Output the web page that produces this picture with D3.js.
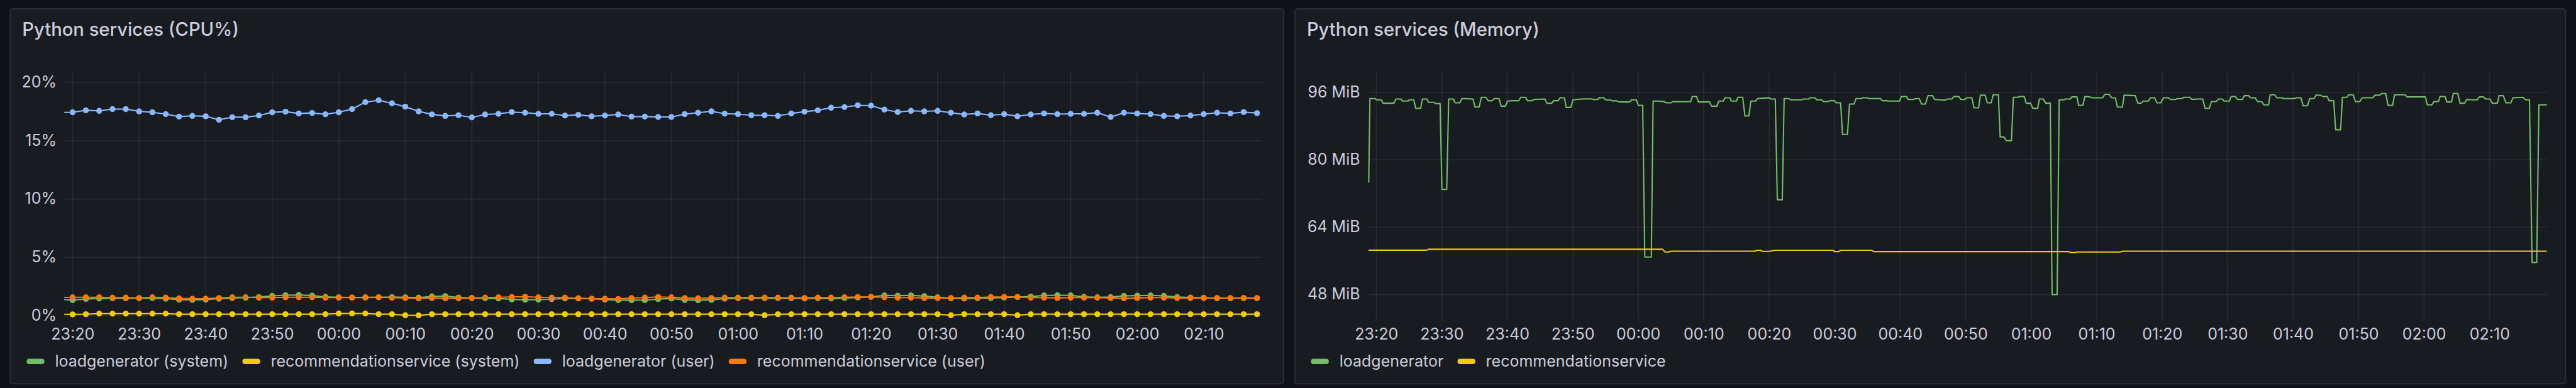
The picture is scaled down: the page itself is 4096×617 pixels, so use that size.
<!DOCTYPE html>
<html><head><meta charset="utf-8">
<script src="https://cdn.jsdelivr.net/npm/d3@7"></script>
<style>html,body{margin:0;padding:0;background:#111217;overflow:hidden}</style>
</head><body>
<svg id="c" width="4096" height="617" viewBox="0 0 6093 918" preserveAspectRatio="none"></svg>
<script>
// ---------- DATA ----------
const cpuTitle = "Python services (CPU%)";
const memTitle = "Python services (Memory)";
const cpuSeriesNames = ["loadgenerator (system)", "recommendationservice (system)", "loadgenerator (user)", "recommendationservice (user)"];
const memSeriesNames = ["loadgenerator", "recommendationservice"];
const cpuTicks = [0, 5, 10, 15, 20];
const memTicks = [48, 64, 80, 96];
// CPU samples: every 2 minutes starting 23:18
const cpuStartMinute = -2, cpuStepMinutes = 2;
const lgSystem = [1.40,1.34,1.44,1.48,1.50,1.50,1.50,1.52,1.46,1.38,1.36,1.38,1.46,1.52,1.55,1.60,1.70,1.76,1.78,1.72,1.62,1.58,1.56,1.56,1.58,1.60,1.58,1.55,1.66,1.68,1.56,1.52,1.50,1.48,1.40,1.37,1.38,1.42,1.48,1.50,1.46,1.38,1.34,1.33,1.34,1.42,1.48,1.36,1.33,1.36,1.46,1.50,1.52,1.50,1.52,1.50,1.48,1.50,1.48,1.52,1.56,1.62,1.74,1.72,1.74,1.68,1.58,1.50,1.48,1.50,1.52,1.56,1.60,1.64,1.74,1.76,1.74,1.62,1.58,1.60,1.70,1.72,1.74,1.70,1.60,1.56,1.54,1.50,1.50,1.52,1.50];
const recSystem = [0.13,0.12,0.13,0.18,0.18,0.18,0.18,0.18,0.18,0.13,0.13,0.13,0.13,0.13,0.13,0.13,0.13,0.13,0.13,0.13,0.13,0.19,0.19,0.19,0.13,0.13,0.04,0.03,0.13,0.13,0.13,0.13,0.13,0.13,0.13,0.13,0.13,0.13,0.13,0.13,0.13,0.13,0.13,0.13,0.13,0.13,0.13,0.13,0.13,0.13,0.13,0.13,0.13,0.04,0.13,0.13,0.13,0.13,0.13,0.13,0.13,0.13,0.13,0.13,0.13,0.13,0.13,0.04,0.13,0.13,0.13,0.13,0.04,0.13,0.13,0.13,0.13,0.13,0.13,0.13,0.13,0.13,0.13,0.13,0.13,0.13,0.13,0.13,0.13,0.13,0.13];
const lgUser = [17.42,17.44,17.61,17.56,17.71,17.71,17.52,17.44,17.28,17.07,17.13,17.10,16.80,17.02,17.02,17.16,17.44,17.49,17.34,17.38,17.27,17.44,17.71,18.31,18.47,18.21,17.92,17.52,17.26,17.13,17.19,17.00,17.25,17.31,17.46,17.40,17.31,17.31,17.16,17.22,17.10,17.16,17.25,17.07,17.07,17.04,17.04,17.28,17.40,17.52,17.32,17.28,17.19,17.19,17.13,17.34,17.49,17.61,17.83,17.89,18.04,18.01,17.67,17.46,17.56,17.52,17.56,17.40,17.25,17.34,17.19,17.28,17.10,17.25,17.34,17.28,17.31,17.31,17.40,17.04,17.40,17.34,17.28,17.13,17.10,17.16,17.28,17.40,17.34,17.46,17.37];
const recUser = [1.56,1.58,1.58,1.58,1.55,1.55,1.52,1.58,1.55,1.49,1.46,1.46,1.52,1.58,1.58,1.55,1.55,1.58,1.58,1.58,1.55,1.55,1.55,1.58,1.58,1.55,1.52,1.49,1.52,1.49,1.49,1.52,1.55,1.58,1.61,1.63,1.58,1.55,1.55,1.49,1.46,1.46,1.44,1.52,1.55,1.61,1.58,1.52,1.50,1.52,1.55,1.55,1.55,1.55,1.55,1.55,1.52,1.55,1.55,1.58,1.61,1.61,1.58,1.55,1.55,1.52,1.52,1.52,1.55,1.55,1.61,1.61,1.61,1.55,1.55,1.52,1.55,1.55,1.55,1.52,1.49,1.52,1.55,1.55,1.52,1.52,1.52,1.52,1.52,1.52,1.52];
// Memory: [minutes after 23:20, MiB]
const lgMem = [[-1.16,74.6],[-0.97,94.5],[-0.19,94.5],[0,94.2],[0.77,94.2],[1.04,93.4],[2.7,93.4],[3.0,94.4],[3.75,94.4],[4.02,93.9],[4.83,93.9],[5.03,94.2],[5.72,94.2],[6.03,92.2],[6.77,92.2],[7.04,94.4],[7.73,94.4],[7.97,93.6],[8.82,93.6],[9.05,93.3],[9.74,93.3],[10.02,72.95],[10.75,72.95],[11.06,94.4],[11.79,94.4],[12.06,93.5],[12.76,93.5],[13.07,94.5],[14.0,94.45],[14.77,94.4],[15.08,92.5],[15.7,92.5],[16.05,94.8],[16.74,94.8],[17.09,94.0],[17.71,94.0],[18.02,94.5],[18.75,94.5],[19.06,92.7],[19.72,92.7],[20.03,93.9],[20.9,94.0],[21.77,94.0],[22.04,94.8],[22.8,94.8],[23.09,94.0],[23.78,94.0],[24.09,94.3],[25.0,94.35],[25.75,94.4],[26.06,93.4],[26.8,93.4],[27.07,94.0],[27.76,94.0],[28.07,94.7],[28.73,94.7],[29.0,92.4],[29.7,92.4],[30.05,94.2],[30.94,94.36],[31.94,94.43],[32.79,94.43],[33.06,94.3],[33.84,94.3],[34.03,94.7],[34.73,94.7],[35.0,94.23],[35.77,94.16],[36.04,93.96],[36.74,93.96],[37.05,93.7],[38.67,93.7],[38.98,94.2],[39.71,94.2],[40.02,92.9],[40.68,92.9],[41.0,56.9],[42.0,56.9],[42.27,93.9],[43.0,93.9],[43.9,93.8],[44.3,93.5],[45.0,93.5],[45.25,93.8],[47.2,93.75],[48.0,93.8],[48.26,95.0],[48.9,95.0],[49.2,93.7],[50.9,93.7],[51.2,92.7],[52.0,92.7],[52.3,93.9],[53.0,93.9],[53.25,94.7],[54.0,94.7],[54.2,93.9],[55.0,93.9],[55.2,94.8],[55.95,94.8],[56.3,90.4],[56.9,90.4],[57.2,93.9],[57.9,93.9],[58.2,94.5],[59.1,94.6],[60.0,94.7],[60.27,94.4],[60.93,94.4],[61.24,70.5],[62.0,70.5],[62.28,94.5],[63.0,94.5],[63.25,94.2],[65.0,94.2],[65.2,94.4],[66.07,94.4],[66.2,94.7],[67.0,94.7],[67.27,94.2],[68.0,94.2],[68.28,93.8],[69.0,93.8],[69.28,94.0],[69.94,94.0],[70.25,93.5],[70.9,93.5],[71.2,86.0],[71.95,86.0],[72.26,93.2],[72.95,93.2],[73.26,94.5],[74.0,94.5],[74.27,94.7],[75.0,94.7],[75.2,94.5],[77.0,94.5],[77.25,94.0],[78.06,94.0],[78.3,93.9],[79.9,93.9],[80.19,95.0],[80.96,95.0],[81.23,94.3],[82.04,94.3],[82.3,94.5],[82.9,94.5],[83.28,93.2],[83.86,93.2],[84.25,95.2],[84.94,95.2],[85.25,94.3],[86.0,94.2],[86.95,94.15],[87.22,94.4],[87.9,94.4],[88.2,95.0],[88.96,95.0],[89.27,94.3],[89.85,94.3],[90.16,94.7],[90.94,94.7],[91.28,92.3],[91.98,92.3],[92.25,95.3],[92.98,95.3],[93.3,93.5],[93.9,93.5],[94.2,95.4],[95.0,95.4],[95.27,85.4],[95.85,85.4],[96.23,84.5],[97.0,84.5],[97.28,94.8],[97.97,94.8],[98.24,95.0],[98.94,95.0],[99.25,93.4],[99.9,93.4],[100.26,92.2],[101.0,92.2],[101.26,94.4],[101.84,94.4],[102.23,93.4],[102.92,93.4],[103.2,48.0],[103.97,48.0],[104.28,94.2],[105.0,94.2],[105.24,94.4],[105.98,94.4],[106.2,94.9],[107.0,94.9],[107.25,92.9],[107.9,92.9],[108.2,95.0],[109.0,94.9],[109.3,94.7],[110.93,94.7],[111.24,95.5],[111.9,95.5],[112.3,94.7],[112.86,94.7],[113.17,92.5],[113.94,92.5],[114.2,95.3],[115.9,95.2],[116.3,93.4],[116.8,93.4],[117.1,93.9],[117.9,93.9],[118.2,94.7],[118.86,94.7],[119.2,93.5],[119.8,93.5],[120.2,94.7],[120.97,94.7],[121.28,94.3],[122.05,94.3],[122.3,94.5],[122.98,94.5],[123.29,94.8],[124.25,94.8],[124.52,94.3],[125.4,94.4],[126.2,94.4],[126.57,92.2],[127.2,92.2],[127.54,93.8],[128.3,93.8],[128.6,94.4],[129.2,94.4],[129.47,93.9],[130.25,93.9],[130.56,95.0],[131.2,95.0],[131.5,94.3],[132.26,94.3],[132.57,95.2],[133.2,95.2],[133.5,94.7],[134.2,94.7],[134.58,93.8],[135.2,93.8],[135.55,93.0],[136.24,93.0],[136.5,95.4],[137.2,95.4],[137.5,94.7],[138.3,94.7],[138.56,94.5],[140.2,94.5],[140.5,94.7],[141.2,94.7],[141.54,92.8],[142.2,92.8],[142.54,94.5],[143.2,94.5],[143.5,95.3],[144.17,95.3],[144.55,95.0],[145.2,95.0],[145.5,94.0],[146.2,94.0],[146.5,87.1],[147.26,87.1],[147.53,94.8],[148.2,94.8],[148.5,95.4],[149.2,95.4],[149.5,93.8],[150.2,93.8],[150.55,94.7],[152.2,94.7],[152.48,95.3],[153.26,95.3],[153.5,95.7],[154.15,95.7],[154.5,92.9],[155.2,92.9],[155.5,95.4],[157.1,95.4],[157.4,94.9],[160.2,94.9],[160.5,93.0],[161.2,93.0],[161.5,93.8],[162.2,93.8],[162.46,95.0],[163.2,95.0],[163.5,93.7],[164.2,93.7],[164.47,95.7],[165.16,95.7],[165.5,93.4],[166.2,93.4],[166.5,94.3],[167.3,94.2],[168.1,94.2],[168.45,94.9],[169.1,94.9],[169.4,94.4],[170.08,94.4],[170.4,93.4],[171.2,93.4],[171.46,95.2],[172.1,95.2],[172.5,93.5],[173.25,93.5],[173.6,94.7],[175.1,94.8],[175.5,94.2],[176.1,94.2],[176.5,55.6],[177.2,55.6],[177.54,93.0],[178.8,93.0]];
const recMem = [[-1.2,58.53],[7.7,58.53],[8.0,58.76],[43.7,58.76],[44.1,58.1],[44.7,58.1],[45.0,58.3],[57.8,58.3],[58.1,58.5],[58.6,58.5],[59.0,58.25],[60.0,58.25],[60.85,58.5],[69.75,58.5],[70.0,58.2],[70.6,58.2],[70.9,58.5],[75.66,58.5],[76.0,58.2],[105.7,58.2],[106.0,58.0],[106.8,58.0],[107.0,58.1],[113.6,58.1],[114.0,58.3],[178.8,58.3]];

// ---------- STYLE ----------
const C = {bg:"#111217", panel:"#181b1f", border:"#2a2d33", text:"#ccccdc", grid:"rgba(204,204,220,0.09)",
  green:"#73bf69", yellow:"#f2cc0c", blue:"#8ab8ff", orange:"#ff780a"};
const FONT = "Inter, 'Noto Sans', sans-serif";
const base = new Date(2024, 0, 1, 23, 20, 0);
const toDate = m => new Date(base.getTime() + m * 60000);
const domainT = [toDate(-1.25), toDate(178.75)];

const svg = d3.select("#c");
svg.append("rect").attr("width", 6093).attr("height", 918).attr("fill", C.bg);
const defs = svg.append("defs");

function panel(px, pw, title) {
  svg.append("rect").attr("x", px).attr("y", 21).attr("width", pw).attr("height", 887)
    .attr("rx", 6).attr("fill", C.panel).attr("stroke", C.border).attr("stroke-width", 3);
  svg.append("text").attr("x", px + 28).attr("y", 85).attr("fill", C.text)
    .attr("font-family", FONT).attr("font-size", 43.4).attr("font-weight", 500).text(title);
}

function axes(x, y, ticks, fmt, left, right, top, bottom, clipId) {
  const g = svg.append("g");
  g.append("g").selectAll("line").data(ticks).join("line")
    .attr("x1", left + 2).attr("x2", right).attr("y1", d => y(d)).attr("y2", d => y(d))
    .attr("stroke", C.grid).attr("stroke-width", 2.5);
  const xt = x.ticks(d3.timeMinute.every(10));
  g.append("g").selectAll("line").data(xt).join("line")
    .attr("x1", d => x(d)).attr("x2", d => x(d)).attr("y1", top).attr("y2", bottom)
    .attr("stroke", C.grid).attr("stroke-width", 2.5);
  const ax = g.append("g").attr("transform", `translate(0,${bottom})`)
    .call(d3.axisBottom(x).ticks(d3.timeMinute.every(10)).tickFormat(d3.timeFormat("%H:%M")).tickSize(0).tickPadding(17.6));
  const ay = g.append("g").attr("transform", `translate(${left + 2},0)`)
    .call(d3.axisLeft(y).tickValues(ticks).tickFormat(fmt).tickSize(0).tickPadding(20));
  [ax, ay].forEach(a => {
    a.select(".domain").remove();
    a.attr("font-family", FONT).attr("font-size", 37.2);
    a.selectAll("text").attr("fill", C.text);
  });
  ay.selectAll("text").attr("dy", "0.3em");
  defs.append("clipPath").attr("id", clipId).append("rect")
    .attr("x", left).attr("y", top).attr("width", right - left).attr("height", bottom - top);
}

function legend(x0, names, colors) {
  const g = svg.append("g").attr("font-family", FONT).attr("font-size", 37.2);
  let x = x0;
  names.forEach((n, i) => {
    g.append("rect").attr("x", x).attr("y", 849).attr("width", 42).attr("height", 12.5).attr("rx", 6).attr("fill", colors[i]);
    const t = g.append("text").attr("x", x + 67).attr("y", 868).attr("fill", C.text).text(n);
    x = x + 67 + t.node().getComputedTextLength() + 33;
  });
}

// ---------- CPU PANEL ----------
panel(24.5, 3011.5, cpuTitle);
const xC = d3.scaleTime().domain(domainT).range([152, 2985]);
const yC = d3.scaleLinear().domain([0, 20]).range([747, 195]);
axes(xC, yC, cpuTicks, d => d + "%", 152, 2985, 167, 760, "clipC");
const cpuSeries = [lgSystem, recSystem, lgUser, recUser];
const cpuColors = [C.green, C.yellow, C.blue, C.orange];
const lineC = d3.line().x(d => xC(d.t)).y(d => yC(d.v));
const gC = svg.append("g").attr("clip-path", "url(#clipC)");
cpuSeries.forEach((vals, si) => {
  const pts = vals.map((v, i) => ({t: toDate(cpuStartMinute + i * cpuStepMinutes), v}));
  gC.append("path").datum(pts).attr("d", lineC).attr("fill", "none")
    .attr("stroke", cpuColors[si]).attr("stroke-width", 3.1).attr("stroke-linejoin", "round");
  gC.append("g").selectAll("circle").data(pts).join("circle")
    .attr("cx", d => xC(d.t)).attr("cy", d => yC(d.v)).attr("r", 7).attr("fill", cpuColors[si]);
});
legend(63, cpuSeriesNames, cpuColors);

// ---------- MEMORY PANEL ----------
panel(3063, 3005, memTitle);
const xM = d3.scaleTime().domain(domainT).range([3236, 6024]);
const yM = d3.scaleLinear().domain([48, 96]).range([697, 218.3]);
axes(xM, yM, memTicks, d => d + " MiB", 3235, 6024, 168, 759, "clipM");
const memSeries = [lgMem, recMem];
const memColors = [C.green, C.yellow];
const lineM = d3.line().x(d => xM(toDate(d[0]))).y(d => yM(d[1]));
const gM = svg.append("g").attr("clip-path", "url(#clipM)");
memSeries.forEach((vals, si) => {
  gM.append("path").datum(vals).attr("d", lineM).attr("fill", "none")
    .attr("stroke", memColors[si]).attr("stroke-width", 3.1).attr("stroke-linejoin", "round");
});
legend(3101, memSeriesNames, memColors);
</script>
</body></html>
